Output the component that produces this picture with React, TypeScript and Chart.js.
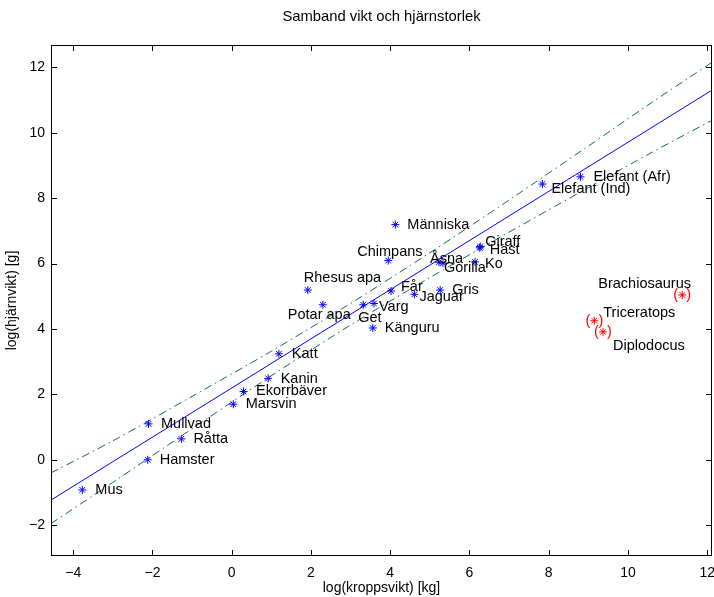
import { useEffect, useRef } from 'react';
import { Chart, registerables } from 'chart.js';

Chart.register(...registerables);

// ---- data (natural logs) ----
const mammalNames = [
  'Mus', 'Hamster', 'Mullvad', 'Råtta', 'Marsvin', 'Ekorrbäver', 'Kanin', 'Katt',
  'Rhesus apa', 'Potar apa', 'Get', 'Varg', 'Känguru', 'Får', 'Jaguar', 'Människa',
  'Chimpans', 'Åsna', 'Gorilla', 'Gris', 'Ko', 'Häst', 'Giraff', 'Elefant (Ind)', 'Elefant (Afr)',
];
const mammalBodyLog = [
  -3.77, -2.12, -2.10, -1.27, 0.04, 0.30, 0.92, 1.19,
  1.92, 2.30, 3.32, 3.59, 3.56, 4.02, 4.61, 4.13,
  3.95, 5.23, 5.33, 5.26, 6.14, 6.26, 6.27, 7.84, 8.80,
];
const mammalBrainLog = [
  -0.92, 0.00, 1.10, 0.64, 1.70, 2.09, 2.49, 3.24,
  5.19, 4.74, 4.74, 4.78, 4.03, 5.16, 5.06, 7.19,
  6.09, 6.04, 6.01, 5.19, 6.05, 6.48, 6.52, 8.43, 8.65,
];
const dinoNames = ['Brachiosaurus', 'Triceratops', 'Diplodocus'];
const dinoBodyLog = [11.37, 9.15, 9.37];
const dinoBrainLog = [5.04, 4.25, 3.91];

const fitX = [-4.56, 12.12];
const fitY = [-1.23, 11.30];
const bandX = [-4.56, -3, -1, 1, 3, 5, 7, 9, 10.5, 12.12];
const bandUpper = [-0.40, 0.58, 1.94, 3.32, 4.78, 6.33, 7.94, 9.59, 10.84, 12.15];
const bandLower = [-1.95, -0.69, 0.95, 2.57, 4.12, 5.57, 6.96, 8.32, 9.33, 10.38];

const xTicks = [-4, -2, 0, 2, 4, 6, 8, 10, 12];
const yTicks = [-2, 0, 2, 4, 6, 8, 10, 12];

const titleText = 'Samband vikt och hjärnstorlek';
const xTitleText = 'log(kroppsvikt) [kg]';
const yTitleText = 'log(hjärnvikt) [g]';

// ---- label placement (pixel offsets from the marker) ----
const mammalLabelDx = [13, 12, 12.5, 12, 12.5, 12.5, 12.5, 13, -4, -35, -5, 5, 12, 10, 5, 12, -31, -9, 1, 12, 10, 10, 5, 9, 13];
const mammalLabelDy = [0, 0, 0, 0, 0, 0, 1, 0, -12, 10, 13, 4, 0, -4, 3, 0, -9, -3, 5, 0, 2, 2, -5, 5, 0];
const dinoLabelDx = [-84, 9, 10];
const dinoLabelDy = [-11, -8, 14];

const FONT = '"Liberation Sans", Arial, Helvetica, sans-serif';
const bandColor = '#106a5a';

const fmt = (v: number) => String(v).replace('-', '\u2212');

const overlay = {
  id: 'overlay',
  afterDraw(chart: any) {
    const { ctx, chartArea: a, scales } = chart;
    const xs = scales.x;
    const ys = scales.y;
    ctx.save();
    ctx.strokeStyle = '#000';
    ctx.lineWidth = 1;
    ctx.setLineDash([]);
    ctx.strokeRect(a.left + 0.5, a.top + 0.5, a.right - a.left - 1, a.bottom - a.top - 1);
    const tl = 6;
    ctx.beginPath();
    xTicks.forEach((v) => {
      const px = Math.round(xs.getPixelForValue(v)) + 0.5;
      ctx.moveTo(px, a.bottom);
      ctx.lineTo(px, a.bottom - tl);
      ctx.moveTo(px, a.top);
      ctx.lineTo(px, a.top + tl);
    });
    yTicks.forEach((v) => {
      const py = Math.round(ys.getPixelForValue(v)) + 0.5;
      ctx.moveTo(a.left, py);
      ctx.lineTo(a.left + tl, py);
      ctx.moveTo(a.right, py);
      ctx.lineTo(a.right - tl, py);
    });
    ctx.stroke();

    ctx.font = `14.5px ${FONT}`;
    ctx.textBaseline = 'middle';
    ctx.textAlign = 'left';
    ctx.fillStyle = '#000';
    mammalNames.forEach((n, i) => {
      const px = xs.getPixelForValue(mammalBodyLog[i]);
      const py = ys.getPixelForValue(mammalBrainLog[i]);
      ctx.fillText(n, px + mammalLabelDx[i], py + mammalLabelDy[i]);
    });
    dinoNames.forEach((n, i) => {
      const px = xs.getPixelForValue(dinoBodyLog[i]);
      const py = ys.getPixelForValue(dinoBrainLog[i]);
      ctx.fillText(n, px + dinoLabelDx[i], py + dinoLabelDy[i]);
    });
    ctx.fillStyle = '#ff0000';
    ctx.textAlign = 'center';
    dinoNames.forEach((_n, i) => {
      const px = xs.getPixelForValue(dinoBodyLog[i]);
      const py = ys.getPixelForValue(dinoBrainLog[i]);
      ctx.fillText('(', px - 6.5, py);
      ctx.fillText(')', px + 6.5, py);
    });

    ctx.fillStyle = '#000';
    ctx.font = `14.8px ${FONT}`;
    ctx.textAlign = 'center';
    ctx.fillText(titleText, (a.left + a.right) / 2, 17);
    ctx.restore();
  },
};

export default function App() {
  const ref = useRef<HTMLCanvasElement>(null);
  useEffect(() => {
    if (!ref.current) return;
    const chart = new Chart(ref.current, {
      type: 'scatter',
      data: {
        datasets: [
          {
            label: 'mammals',
            data: mammalBodyLog.map((x, i) => ({ x, y: mammalBrainLog[i] })),
            pointStyle: 'star',
            radius: 4,
            borderColor: '#0000ff',
            backgroundColor: '#0000ff',
            borderWidth: 1,
          },
          {
            label: 'dinos',
            data: dinoBodyLog.map((x, i) => ({ x, y: dinoBrainLog[i] })),
            pointStyle: 'star',
            radius: 4,
            borderColor: '#ff0000',
            backgroundColor: '#ff0000',
            borderWidth: 1,
          },
          {
            label: 'fit',
            data: fitX.map((x, i) => ({ x, y: fitY[i] })),
            showLine: true,
            pointRadius: 0,
            borderColor: '#0000ff',
            borderWidth: 1,
          },
          {
            label: 'upper',
            data: bandX.map((x, i) => ({ x, y: bandUpper[i] })),
            showLine: true,
            pointRadius: 0,
            borderColor: bandColor,
            borderWidth: 1,
            borderDash: [8, 4, 1.5, 4],
            tension: 0.3,
          },
          {
            label: 'lower',
            data: bandX.map((x, i) => ({ x, y: bandLower[i] })),
            showLine: true,
            pointRadius: 0,
            borderColor: bandColor,
            borderWidth: 1,
            borderDash: [8, 4, 1.5, 4],
            tension: 0.3,
          },
        ],
      },
      options: {
        animation: false,
        responsive: false,
        devicePixelRatio: 1,
        layout: { autoPadding: false, padding: { top: 45, right: 2, left: 0, bottom: 0 } },
        plugins: { legend: { display: false }, tooltip: { enabled: false }, title: { display: false } },
        scales: {
          x: {
            type: 'linear',
            min: -4.56,
            max: 12.12,
            bounds: 'data',
            grid: { display: false, drawTicks: false },
            border: { display: false },
            afterBuildTicks: (s: any) => { s.ticks = xTicks.map((v) => ({ value: v })); },
            afterFit: (s: any) => { s.height = 41; s.paddingLeft = 0; s.paddingRight = 0; },
            ticks: { font: { family: FONT, size: 14 }, color: '#000', padding: 9, callback: (v: any) => fmt(v) },
            title: { display: true, text: xTitleText, font: { family: FONT, size: 14 }, color: '#000', padding: { top: 0, bottom: 0 } },
          },
          y: {
            type: 'linear',
            min: -2.94,
            max: 12.68,
            bounds: 'data',
            grid: { display: false, drawTicks: false },
            border: { display: false },
            afterBuildTicks: (s: any) => { s.ticks = yTicks.map((v) => ({ value: v })); },
            afterFit: (s: any) => { s.width = 51; s.paddingTop = 0; s.paddingBottom = 0; },
            ticks: { font: { family: FONT, size: 14 }, color: '#000', padding: 6, callback: (v: any) => fmt(v) },
            title: { display: true, text: yTitleText, font: { family: FONT, size: 14 }, color: '#000', padding: { top: 4, bottom: 0 } },
          },
        },
      },
      plugins: [overlay],
    });
    return () => chart.destroy();
  }, []);
  return (
    <div style={{ position: 'absolute', left: 0, top: 0, width: 714, height: 597, background: '#fff' }}>
      <canvas ref={ref} width={714} height={597} style={{ display: 'block' }} />
    </div>
  );
}
